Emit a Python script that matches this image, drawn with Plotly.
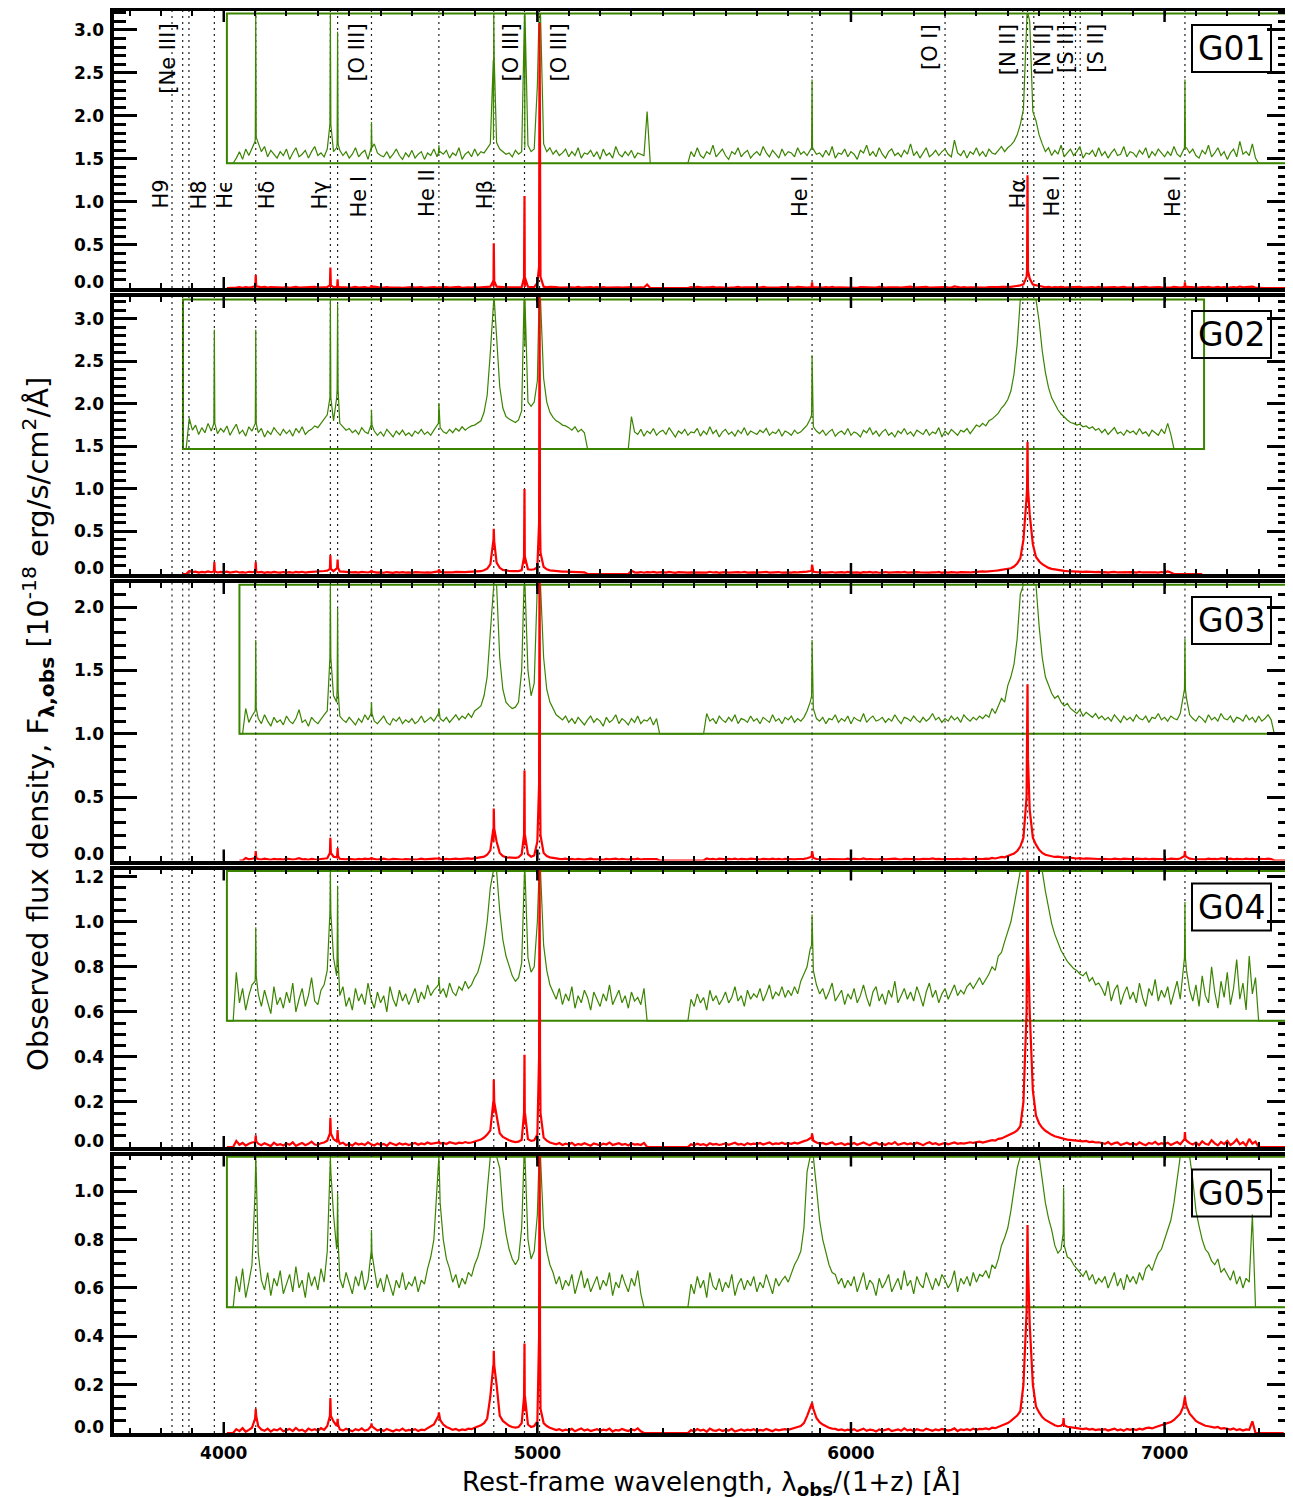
import numpy as np
import plotly.graph_objects as go

# ---------------------------------------------------------------- data
line_wl = [3835, 3869, 3889, 3970, 4102, 4340, 4363, 4471, 4686, 4861, 4959,
           5007, 5876, 6300, 6548, 6563, 6583, 6678, 6716, 6731, 7065]

upper_labels = ["[Ne III]", "[O III]", "[O III]", "[O III]", "[O I]", "[N II]",
                "[N II]", "[S II]", "[S II]"]
upper_label_wl = [3869, 4363, 4959, 5007, 6300, 6548, 6583, 6716, 6731]
lower_labels = ["H9", "H8", "Hϵ", "Hδ", "Hγ", "He I", "He II", "Hβ", "He I",
                "Hα", "He I", "He I"]
lower_label_wl = [3835, 3889, 3970, 4102, 4340, 4471, 4686, 4861, 5876, 6563,
                  6678, 7065]

panel_names = ["G01", "G02", "G03", "G04", "G05"]
x_tick_values = [4000, 5000, 6000, 7000]

# Spectra: flux in units of 1e-21 erg/s/cm2/A (1e-3 of the plotted unit),
# sampled every 10 A from grid_start; 0 where there is no data.
grid_start = [4010, 3870, 4050, 4010, 4010]

G01_flux = [
    0, 0, 0, 4, 9, 3, 11, 6, 12,
    17, 15, 9, 13, 5, 10, 7, 4, 9, 6,
    11, 3, 8, 12, 5, 7, 10, 4, 9, 13,
    6, 8, 5, 11, 16, 9, 12, 10, 6, 9,
    4, 7, 12, 5, 8, 10, 3, 9, 15, 8,
    6, 5, 9, 4, 7, 11, 6, 3, 8, 5,
    10, 4, 7, 9, 3, 8, 6, 11, 5, 9,
    7, 10, 4, 8, 6, 12, 3, 7, 9, 5,
    11, 6, 9, 8, 12, 15, 18, 16, 11, 9,
    7, 8, 5, 10, 7, 9, 12, 14, 9, 11,
    60, 130, 15, 9, 12, 7, 10, 6, 8, 11,
    5, 9, 6, 12, 4, 8, 7, 10, 5, 9,
    3, 11, 6, 8, 4, 13, 7, 5, 9, 6,
    10, 4, 8, 7, 6, 40, 0, 0, 0, 0,
    0, 0, 0, 0, 0, 0, 0, 0, 0, 9,
    5, 12, 6, 4, 9, 7, 14, 5, 8, 11,
    6, 3, 9, 7, 12, 5, 8, 10, 4, 7,
    9, 6, 13, 8, 5, 10, 7, 4, 11, 6,
    9, 8, 5, 12, 7, 9, 6, 10, 11, 7,
    8, 5, 10, 6, 13, 4, 8, 7, 11, 5,
    9, 7, 3, 10, 8, 14, 6, 9, 5, 12,
    7, 4, 9, 11, 6, 8, 5, 10, 7, 15,
    6, 9, 4, 8, 12, 5, 7, 10, 6, 9,
    11, 7, 5, 18, 8, 6, 10, 4, 9, 7,
    12, 6, 9, 5, 11, 8, 7, 10, 13, 9,
    12, 14, 17, 22, 30, 42, 130, 110, 40, 33,
    22, 15, 9, 12, 6, 10, 7, 14, 5, 8,
    11, 6, 9, 13, 4, 8, 7, 10, 5, 12,
    6, 9, 4, 8, 11, 6, 7, 13, 5, 9,
    8, 5, 10, 7, 12, 4, 9, 6, 11, 8,
    5, 9, 6, 13, 7, 5, 10, 12, 8, 11,
    6, 4, 10, 7, 14, 5, 8, 12, 6, 9,
    3, 8, 11, 5, 17, 7, 9, 6, 15, 4,
    0, 0, 0, 0, 0, 0, 0, 0, 0, 0,
]
G02_flux = [
    0, 0, 36,
    22, 28, 17, 25, 19, 30, 21, 26, 18, 24,
    20, 27, 16, 23, 29, 18, 22, 15, 26, 21,
    28, 19, 24, 14, 21, 17, 25, 20, 16, 23,
    18, 22, 15, 24, 19, 26, 17, 21, 23, 27,
    25, 30, 35, 40, 50, 33, 60, 30, 26, 22,
    24, 19, 22, 17, 25, 20, 18, 24, 21, 16,
    20, 15, 23, 18, 14, 21, 17, 22, 16, 19,
    15, 21, 18, 23, 17, 20, 16, 22, 28, 25,
    20, 18, 23, 19, 24, 21, 26, 22, 25, 27,
    28, 31, 33, 43, 63, 113, 400, 133, 73, 48,
    38, 35, 33, 31, 34, 45, 120, 55, 50, 55,
    80, 250, 83, 55, 43, 37, 33, 31, 28, 27,
    25, 22, 26, 20, 23, 19, 0, 0, 0, 0,
    0, 0, 0, 0, 0, 0, 0, 0, 0, 0,
    38, 20, 17, 23, 15, 21, 18, 24, 16, 20,
    22, 17, 25, 19, 14, 21, 18, 23, 16, 20,
    19, 24, 15, 21, 17, 26, 18, 22, 14, 20,
    23, 17, 20, 15, 22, 18, 25, 16, 21, 19,
    17, 22, 19, 24, 16, 20, 18, 23, 15, 21,
    19, 16, 22, 18, 20, 24, 28, 35, 26, 21,
    18, 22, 16, 20, 23, 15, 19, 21, 17, 24,
    16, 20, 18, 14, 22, 19, 25, 17, 21, 15,
    20, 23, 16, 19, 14, 21, 18, 24, 17, 20,
    15, 22, 19, 17, 23, 16, 20, 18, 25, 14,
    21, 17, 23, 19, 16, 22, 20, 24, 18, 23,
    28, 26, 30, 27, 33, 35, 38, 42, 48, 52,
    58, 68, 88, 123, 183, 400, 900, 700, 350, 200,
    150, 115, 90, 72, 60, 52, 46, 41, 37, 34,
    31, 30, 28, 29, 26, 27, 24, 26, 22, 24,
    19, 23, 17, 21, 25, 18, 20, 16, 22, 19,
    21, 17, 24, 18, 20, 15, 22, 19, 16, 23,
    18, 30, 17, 0, 0, 0, 0, 0, 0, 0,
    0, 0, 0,
]
G03_flux = [
    0, 0, 20, 9, 14,
    18, 12, 8, 15, 10, 6, 13, 9, 11, 7,
    14, 10, 8, 12, 19, 9, 11, 6, 13, 10,
    8, 12, 15, 18, 60, 30, 25, 14, 11, 9,
    13, 10, 7, 12, 9, 15, 11, 16, 10, 8,
    11, 14, 9, 7, 12, 10, 13, 8, 11, 9,
    12, 8, 10, 14, 9, 11, 13, 10, 15, 12,
    10, 13, 9, 12, 15, 11, 14, 12, 16, 13,
    18, 20, 22, 30, 45, 80, 150, 150, 60, 35,
    25, 22, 20, 21, 25, 50, 120, 50, 30, 40,
    150, 200, 60, 35, 25, 20, 15, 13, 11, 14,
    9, 12, 8, 13, 10, 7, 11, 14, 9, 12,
    10, 6, 13, 9, 11, 15, 8, 12, 10, 7,
    12, 9, 14, 8, 11, 10, 13, 7, 12, 0,
    0, 0, 0, 0, 0, 0, 0, 0, 0, 0,
    0, 0, 0, 0, 16, 10, 12, 8, 14, 11,
    9, 13, 10, 15, 8, 12, 11, 9, 14, 10,
    12, 8, 13, 11, 9, 15, 10, 12, 8, 13,
    11, 14, 9, 12, 10, 13, 18, 25, 20, 12,
    10, 13, 8, 12, 11, 15, 9, 12, 10, 14,
    8, 13, 11, 10, 16, 9, 12, 14, 10, 11,
    13, 9, 12, 10, 15, 11, 8, 13, 12, 10,
    14, 11, 9, 13, 10, 12, 16, 11, 13, 9,
    12, 10, 14, 11, 13, 9, 15, 12, 10, 13,
    11, 14, 12, 15, 13, 20, 16, 22, 28, 25,
    38, 45, 55, 75, 110, 180, 500, 400, 180, 125,
    85, 60, 45, 38, 32, 28, 30, 25, 22, 24,
    20, 18, 16, 19, 14, 17, 15, 13, 16, 12,
    14, 11, 13, 10, 15, 12, 9, 14, 11, 13,
    10, 15, 12, 11, 14, 9, 13, 12, 16, 11,
    13, 10, 14, 12, 11, 16, 30, 28, 15, 12,
    10, 14, 12, 9, 15, 11, 13, 10, 16, 12,
    11, 14, 9, 13, 12, 10, 15, 11, 13, 9,
    14, 10, 12, 15, 11, 0, 0, 0, 0, 0,
]
G04_flux = [
    0, 0, 0, 27, 10, 18, 6, 14, 20,
    22, 15, 8, 17, 11, 4, 19, 9, 13, 7,
    16, 10, 21, 5, 12, 18, 8, 14, 24, 11,
    9, 17, 20, 28, 60, 35, 25, 14, 19, 8,
    13, 6, 18, 11, 15, 9, 21, 12, 7, 16,
    10, 14, 5, 19, 12, 8, 17, 11, 15, 9,
    13, 18, 10, 16, 12, 20, 14, 17, 19, 15,
    18, 13, 21, 16, 14, 19, 17, 22, 18, 20,
    24, 27, 33, 42, 55, 74, 150, 140, 61, 45,
    36, 30, 25, 22, 24, 32, 100, 35, 27, 30,
    55, 150, 42, 28, 20, 16, 12, 18, 9, 15,
    11, 19, 7, 14, 10, 17, 13, 6, 16, 12,
    8, 15, 11, 20, 9, 13, 17, 10, 14, 7,
    16, 11, 13, 9, 18, 0, 0, 0, 0, 0,
    0, 0, 0, 0, 0, 0, 0, 0, 0, 12,
    8, 15, 10, 13, 6, 17, 11, 14, 9, 12,
    16, 10, 13, 19, 11, 14, 8, 17, 12, 15,
    13, 18, 11, 15, 20, 12, 16, 14, 19, 13,
    17, 14, 19, 15, 22, 26, 30, 40, 28, 20,
    15, 18, 12, 16, 21, 11, 14, 17, 9, 15,
    12, 18, 10, 14, 20, 13, 8, 16, 19, 11,
    15, 9, 17, 13, 22, 10, 14, 18, 12, 16,
    11, 19, 14, 8, 16, 21, 13, 17, 10, 15,
    18, 12, 16, 20, 14, 17, 15, 19, 21, 18,
    21, 24, 20, 23, 26, 30, 28, 36, 38, 44,
    50, 55, 64, 74, 92, 200, 600, 600, 250, 140,
    105, 85, 72, 62, 54, 48, 43, 39, 36, 33,
    31, 29, 28, 26, 25, 27, 22, 24, 20, 21,
    18, 14, 22, 11, 17, 20, 9, 15, 19, 12,
    16, 10, 21, 13, 8, 18, 14, 23, 11, 17,
    13, 19, 9, 16, 22, 12, 30, 28, 17, 11,
    20, 8, 25, 14, 10, 30, 16, 7, 22, 13,
    27, 9, 18, 34, 12, 21, 6, 36, 15, 24,
    0, 0, 0, 0, 0, 0, 0, 0, 0, 0,
]
G05_flux = [
    0, 0, 0, 16, 8, 20, 5, 13, 22,
    60, 28, 14, 9, 18, 6, 15, 11, 19, 7,
    12, 17, 8, 21, 10, 14, 5, 18, 11, 16,
    9, 20, 13, 29, 145, 48, 30, 15, 10, 18,
    12, 7, 16, 11, 19, 9, 14, 25, 20, 10,
    15, 8, 17, 12, 6, 14, 10, 18, 9, 13,
    11, 16, 8, 14, 12, 20, 26, 35, 60, 54,
    35, 25, 20, 13, 17, 10, 15, 12, 18, 16,
    22, 26, 32, 41, 60, 150, 250, 200, 72, 50,
    38, 30, 25, 22, 25, 41, 90, 35, 25, 29,
    48, 100, 41, 29, 22, 18, 12, 16, 9, 14,
    11, 17, 7, 13, 19, 10, 15, 8, 12, 16,
    9, 14, 11, 18, 6, 13, 10, 17, 12, 8,
    15, 11, 19, 7, 0, 0, 0, 0, 0, 0,
    0, 0, 0, 0, 0, 0, 0, 0, 0, 12,
    7, 16, 10, 14, 5, 18, 11, 9, 15, 8,
    13, 10, 17, 6, 12, 15, 9, 14, 11, 16,
    8, 13, 10, 17, 12, 7, 15, 11, 14, 16,
    13, 18, 22, 25, 29, 41, 70, 100, 100, 62,
    45, 35, 28, 22, 18, 17, 12, 15, 10, 14,
    11, 16, 8, 13, 18, 9, 14, 12, 6, 15,
    10, 13, 17, 8, 12, 15, 9, 19, 11, 14,
    7, 16, 12, 10, 18, 13, 9, 15, 11, 17,
    14, 10, 13, 19, 8, 15, 12, 16, 11, 18,
    13, 17, 16, 19, 15, 22, 20, 25, 32, 36,
    41, 50, 60, 72, 90, 200, 500, 450, 200, 110,
    85, 66, 54, 46, 40, 32, 28, 30, 32, 26,
    25, 22, 20, 18, 16, 19, 14, 17, 12, 15,
    13, 16, 10, 14, 18, 11, 15, 9, 17, 13,
    16, 12, 18, 14, 20, 22, 19, 24, 28, 30,
    35, 40, 45, 54, 66, 80, 110, 110, 80, 66,
    50, 42, 35, 30, 28, 24, 22, 25, 18, 20,
    17, 14, 19, 12, 16, 10, 15, 13, 48, 0,
    0, 0, 0, 0, 0, 0, 0, 0, 0,
]

# Narrow emission lines: (wavelength, peak, flux 1.5 A either side)
G01_lines = [(4102, 150, 20), (4340, 237, 30), (4363, 102, 15), (4471, 32, 12),
             (4686, 14, 8), (4861, 520, 80), (4959, 1070, 120), (5007, 3080, 250),
             (5876, 65, 12), (6563, 1310, 200), (7065, 65, 12)]
G02_lines = [(3970, 140, 30), (4102, 140, 30), (4340, 220, 60), (4363, 170, 70),
             (4471, 46, 28), (4686, 54, 30), (4861, 530, 380), (4959, 1000, 200),
             (5007, 3400, 600), (5876, 110, 40), (6563, 1550, 1000)]
G03_lines = [(4102, 74, 20), (4340, 180, 60), (4363, 99, 35), (4471, 25, 16),
             (4686, 20, 16), (4861, 410, 250), (4959, 710, 200), (5007, 2500, 600),
             (5876, 74, 30), (6563, 1390, 800), (7065, 75, 35)]
G04_lines = [(4102, 52, 25), (4340, 130, 60), (4363, 75, 35), (4686, 24, 20),
             (4861, 300, 200), (4959, 410, 150), (5007, 1300, 400), (5876, 59, 42),
             (6563, 1500, 900), (7065, 66, 35)]
G05_lines = [(4102, 100, 70), (4340, 145, 70), (4363, 59, 35), (4471, 40, 28),
             (4686, 85, 70), (4861, 340, 280), (4959, 370, 150), (5007, 1400, 400),
             (5876, 125, 115), (6563, 860, 700), (6678, 62, 38), (7065, 150, 130)]

all_flux = [G01_flux, G02_flux, G03_flux, G04_flux, G05_flux]
all_lines = [G01_lines, G02_lines, G03_lines, G04_lines, G05_lines]

# ---------------------------------------------------------------- style / layout
W, H = 1293, 1498
X0PX, X1PX = 106, 1282
GREEN = "#3a8400"
zoom_factor = [15, 10, 10, 8, 8]
zoom_base = [1.45, 1.47, 1.0, 0.56, 0.52]
zoom_top = [3.19, 3.227, 2.176, 1.225, 1.143]
box_right = [7400, 7126, 7400, 7394, 7388]
y_max = [3.22, 3.255, 2.19, 1.232, 1.148]
y_major = [0.5, 0.5, 0.5, 0.2, 0.2]
y_minor = [0.1, 0.1, 0.1, 0.05, 0.05]
frame_px = [(3, 280), (289, 566), (575, 852.5), (861.5, 1139), (1147.5, 1425)]
upper_shift = [-15, 19, -14, 19, -15, -15, 9, -10, 15]
lower_shift = [-11, 11, 11, 12, -10, -12, -12, -8, -12, -10, -12, -12]
upper_top_px = 14
lower_bottom_px = [203, 203, 203, 203, 203, 211, 211, 203, 211, 203, 211, 211]
LINE_HALF_WIDTH = 1.5
MAJOR_XTICK_LEN = 11

TICKFONT = dict(family="DejaVu Sans", size=17, color="black", weight="bold")
TXTFONT = dict(family="DejaVu Sans", size=21, color="black")


def build(start, vals, lines):
    d = {float(start + 10 * i): v * 1e-3 for i, v in enumerate(vals)}
    for w, p, s in lines:
        d[float(w) - LINE_HALF_WIDTH] = s * 1e-3
        d[float(w)] = p * 1e-3
        d[float(w) + LINE_HALF_WIDTH] = s * 1e-3
    xs = sorted(d)
    return np.array(xs), np.array([d[x] for x in xs])


fig = go.Figure()

for i in range(5):
    sfx = "" if i == 0 else str(i + 1)
    dx, dy = [], []
    for w in line_wl:
        dx += [w, w, None]
        dy += [0, y_max[i], None]
    fig.add_trace(go.Scatter(x=dx, y=dy, mode="lines",
                             line=dict(color="#222222", width=1.2, dash="2px,4px"),
                             xaxis="x" + sfx, yaxis="y" + sfx,
                             showlegend=False, hoverinfo="skip"))
    xs, fl = build(grid_start[i], all_flux[i], all_lines[i])
    base, k, top = zoom_base[i], zoom_factor[i], zoom_top[i]
    green = np.clip(base + k * fl, base, top)
    fig.add_trace(go.Scatter(x=xs, y=green, mode="lines",
                             line=dict(color=GREEN, width=1.2),
                             xaxis="x" + sfx, yaxis="y" + sfx,
                             showlegend=False, hoverinfo="skip"))
    fig.add_trace(go.Scatter(x=xs, y=fl, mode="lines",
                             line=dict(color="red", width=2.2),
                             xaxis="x" + sfx, yaxis="y" + sfx,
                             showlegend=False, hoverinfo="skip"))
    fig.add_shape(type="rect", xref="x" + sfx, yref="y" + sfx,
                  x0=xs[0], x1=box_right[i], y0=base, y1=top,
                  line=dict(color=GREEN, width=2), layer="below")
    ytop = 1 - frame_px[i][0] / H
    ybot = 1 - frame_px[i][1] / H
    panel_h = frame_px[i][1] - frame_px[i][0]
    fig.layout["xaxis" + sfx] = dict(
        domain=[X0PX / W, X1PX / W], range=[3650, 7400], anchor="y" + sfx,
        showline=True, linewidth=3.5, linecolor="black", mirror="ticks",
        ticks="", tickmode="array", tickvals=x_tick_values, showgrid=False,
        zeroline=False,
        minor=dict(dtick=100, tick0=0, ticklen=5, tickwidth=2,
                   tickcolor="black", ticks="inside", showgrid=False),
        showticklabels=(i == 4), tickfont=TICKFONT, ticklabelstandoff=2)
    f = MAJOR_XTICK_LEN / panel_h
    for v in x_tick_values:
        for y0, y1 in ((0, f), (1 - f, 1)):
            fig.add_shape(type="line", xref="x" + sfx, yref="y" + sfx + " domain",
                          x0=v, x1=v, y0=y0, y1=y1,
                          line=dict(color="black", width=2.5))
    fig.layout["yaxis" + sfx] = dict(
        domain=[ybot, ytop], range=[0, y_max[i]], anchor="x" + sfx,
        showline=True, linewidth=3.5, linecolor="black", mirror="ticks",
        ticks="inside", ticklen=23, tickwidth=2.5, tickcolor="black",
        tick0=0, dtick=y_major[i], showgrid=False, zeroline=False,
        showticklabels=False,
        minor=dict(dtick=y_minor[i], ticklen=12, tickwidth=2.5,
                   tickcolor="black", ticks="inside", showgrid=False))
    nmaj = int(np.floor(y_max[i] / y_major[i] + 1e-6))
    for j in range(nmaj + 1):
        v = j * y_major[i]
        fig.add_annotation(x=98 / W, y=v, xref="paper", yref="y" + sfx,
                           text=f"{v:.1f}", showarrow=False, font=TICKFONT,
                           xanchor="right", yanchor="middle",
                           yshift=6 if j == 0 else 0)
    t = frame_px[i][0]
    fig.add_shape(type="rect", xref="paper", yref="paper",
                  x0=1184 / W, x1=1263 / W, y0=1 - (t + 61) / H,
                  y1=1 - (t + 14) / H, line=dict(color="black", width=2))
    fig.add_annotation(x=1223.5 / W, y=1 - (t + 37.5) / H, xref="paper",
                       yref="paper", text=panel_names[i], showarrow=False,
                       font=dict(family="DejaVu Sans", size=33, color="black"),
                       xanchor="center", yanchor="middle")

for lab, w, s in zip(upper_labels, upper_label_wl, upper_shift):
    fig.add_annotation(x=w, y=1 - upper_top_px / H, xref="x", yref="paper",
                       text=lab, textangle=-90, showarrow=False, font=TXTFONT,
                       xanchor="center", yanchor="top", xshift=s)
for lab, w, s, b in zip(lower_labels, lower_label_wl, lower_shift, lower_bottom_px):
    fig.add_annotation(x=w, y=1 - b / H, xref="x", yref="paper", text=lab,
                       textangle=-90, showarrow=False, font=TXTFONT,
                       xanchor="center", yanchor="bottom", xshift=s)

fig.add_annotation(x=703 / W, y=1 - 1475 / H, xref="paper", yref="paper",
                   text="Rest-frame wavelength, λ<sub><b>obs</b></sub>/(1+z) [Å]",
                   showarrow=False, xanchor="center", yanchor="middle",
                   font=dict(family="DejaVu Sans", size=26, color="black"))
fig.add_annotation(x=30 / W, y=1 - 716 / H, xref="paper", yref="paper",
                   text="Observed flux density, F<sub><b>λ,obs</b></sub> "
                        "[10<sup>-18</sup> erg/s/cm<sup>2</sup>/Å]",
                   textangle=-90, showarrow=False, xanchor="center",
                   yanchor="middle",
                   font=dict(family="DejaVu Sans", size=29, color="black"))

fig.update_layout(width=W, height=H, margin=dict(l=0, r=0, t=0, b=0),
                  paper_bgcolor="white", plot_bgcolor="white",
                  showlegend=False)

fig.write_html("out.html")
